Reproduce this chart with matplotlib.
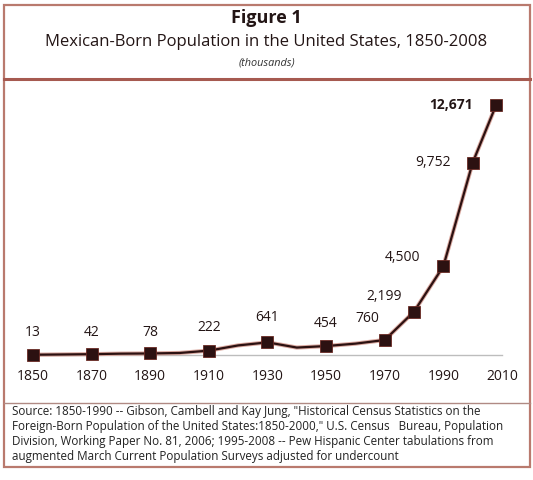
import numpy as np
import matplotlib
matplotlib.use("Agg")
import matplotlib.pyplot as plt
from matplotlib.patches import Rectangle
import matplotlib.patheffects as pe

plt.rcParams['font.family'] = ['Open Sans', 'DejaVu Sans']

# decade series (marked points plus the unmarked census decades that shape the line)
years = [1850, 1860, 1870, 1880, 1890, 1900, 1910, 1920, 1930, 1940, 1950, 1960,
         1970, 1980, 1990, 2000, 2008]
pop = [13, 27, 42, 68, 78, 103, 222, 486, 641, 377, 454, 576,
       760, 2199, 4500, 9752, 12671]

# points that carry a marker and a value label
marked_years = [1850, 1870, 1890, 1910, 1930, 1950, 1970, 1980, 1990, 2000, 2008]
labels = ["13", "42", "78", "222", "641", "454", "760", "2,199", "4,500", "9,752", "12,671"]
# label offsets in pixels from the marker
offs = [(0, 22), (0, 22), (0, 21), (0, 23), (0, 25), (0, 23), (-17, 22),
        (-30, 15), (-41, 9), (-40, 0), (-45, 0)]

xticks = [1850, 1870, 1890, 1910, 1930, 1950, 1970, 1990, 2010]

title = "Figure 1"
subtitle = "Mexican-Born Population in the United States, 1850-2008"
unit = "(thousands)"
source = [
    'Source: 1850-1990 -- Gibson, Cambell and Kay Jung, "Historical Census Statistics on the',
    'Foreign-Born Population of the United States:1850-2000," U.S. Census   Bureau, Population',
    'Division, Working Paper No. 81, 2006; 1995-2008 -- Pew Hispanic Center tabulations from',
    'augmented March Current Population Surveys adjusted for undercount',
]

W, H = 533, 480
fig = plt.figure(figsize=(W / 100, H / 100), dpi=100)

border = '#b97a6e'
dark = '#2c1111'

def fy(p):
    return 1 - p / H

# frame and separators
fig.patches.append(Rectangle((4 / W, fy(467)), 526 / W, (467 - 5) / H, transform=fig.transFigure,
                             fill=False, ec=border, lw=1.6))
fig.lines.append(plt.Line2D([4 / W, 530 / W], [fy(79), fy(79)], transform=fig.transFigure,
                            color='#a65a50', lw=2.2))
fig.lines.append(plt.Line2D([4 / W, 530 / W], [fy(403), fy(403)], transform=fig.transFigure,
                            color='#b08a84', lw=1.0))

fig.text(0.5, fy(18), title, ha='center', va='center', fontsize=13, fontweight='bold', color='#231515')
fig.text(0.5, fy(42), subtitle, ha='center', va='center', fontsize=12, color='#231515')
fig.text(0.5, fy(63), unit, ha='center', va='center', fontsize=7.8, style='italic', color='#333333')

for i, line in enumerate(source):
    fig.text(12 / W, fy(412 + i * 14.8), line, ha='left', va='center', fontsize=8.4, color='#222222')

# axes: 1850 at x=33px, 2010 at x=502px; 0 at y=355px, 12671 at y=105px
ax = fig.add_axes([5 / W, fy(402), 524 / W, (402 - 81) / H])
ppy = (502 - 33) / 160.0
x0 = 1850 - (33 - 5) / ppy
x1 = 1850 + (529 - 33) / ppy
ppv = (355 - 105) / 12671.0
y0 = -(402 - 355) / ppv
y1 = (355 - 81) / ppv
ax.set_xlim(x0, x1)
ax.set_ylim(y0, y1)
ax.axis('off')

ax.plot([1850, 2010], [0, 0], color='#bdbdbd', lw=1.0, zorder=1)

ax.plot(years, pop, color=dark, lw=1.6, zorder=3,
        path_effects=[pe.Stroke(linewidth=3.0, foreground='#d9a89f'), pe.Normal()])
mv = [years.index(y) for y in marked_years]
ax.plot([years[i] for i in mv], [pop[i] for i in mv], ls='none', marker='s', ms=8,
        mfc=dark, mec='#6a2a24', mew=0.6, zorder=4)

for yr, lab, (dx, dy) in zip(marked_years, labels, offs):
    v = pop[years.index(yr)]
    ax.annotate(lab, (yr, v), xytext=(dx, dy), textcoords='offset pixels',
                ha='center', va='center', fontsize=10, color='#231515',
                fontweight='bold' if lab == "12,671" else 'normal')

for t in xticks:
    ax.annotate(str(t), (t, 0), xytext=(0, -22), textcoords='offset pixels',
                ha='center', va='center', fontsize=10, color='#231515')

fig.savefig('out.png', dpi=100)
